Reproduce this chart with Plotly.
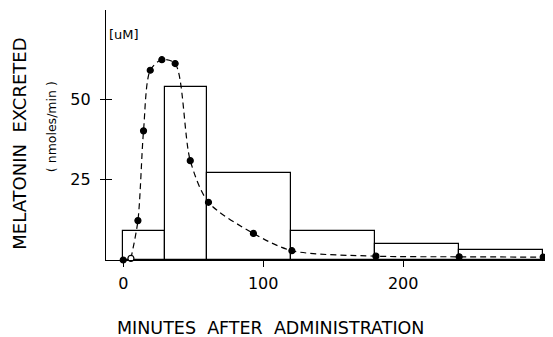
import plotly.graph_objects as go

# Histogram: excretion in collection periods
bin_start = [0, 30, 60, 120, 180, 240]
bin_end = [30, 60, 120, 180, 240, 300]
bin_height = [9, 54, 27, 9, 5, 3]

# Plasma concentration curve (uM)
t_min = [0, 5.5, 10.5, 14.5, 19.3, 27.6, 37.1, 47.9, 60.9, 93, 120.5, 180.5, 240, 300]
conc = [0, 0.5, 12.3, 40.3, 59.2, 62.5, 61.3, 31, 18, 8.3, 2.9, 1.2, 1.0, 0.9]
marker_open = [False, True, False, False, False, False, False, False, False, False, False, False, False, False]

x_ticks = [0, 100, 200]
y_ticks = [25, 50]

FONT = "DejaVu Sans"

centers = [(a + b) / 2 for a, b in zip(bin_start, bin_end)]
widths = [b - a for a, b in zip(bin_start, bin_end)]

fig = go.Figure()
fig.add_trace(go.Bar(
    x=centers, y=bin_height, width=widths,
    marker=dict(color="rgba(255,255,255,0)", line=dict(color="black", width=1.2)),
    showlegend=False, hoverinfo="skip",
))
fig.add_trace(go.Scatter(
    x=t_min[1:], y=conc[1:], mode="lines",
    line=dict(color="black", width=1.2, dash="6px,4px", shape="spline", smoothing=0.8),
    showlegend=False, hoverinfo="skip",
))
fig.add_trace(go.Scatter(
    x=t_min, y=conc, mode="markers",
    marker=dict(
        size=6,
        color=["white" if o else "black" for o in marker_open],
        line=dict(color="black", width=1.2),
    ),
    cliponaxis=False, showlegend=False,
))

# page body has an 8px margin, so the figure is offset by 8px in the window
fig.update_layout(
    width=545, height=329,
    margin=dict(l=98, r=1, t=2, b=77),
    paper_bgcolor="white", plot_bgcolor="white",
    font=dict(family=FONT, color="black", size=15),
    bargap=0,
    xaxis=dict(
        range=[-12.3, 306.3], tickvals=x_ticks, ticks="outside", ticklen=6,
        tickwidth=1.2, tickcolor="black", showgrid=False, zeroline=False,
        showline=True, linecolor="black", linewidth=1.2,
        tickfont=dict(size=16, family=FONT), ticklabelstandoff=3,
    ),
    yaxis=dict(
        range=[0, 78], tickvals=y_ticks, ticks="outside", ticklen=5,
        tickwidth=1.2, tickcolor="black", showgrid=False, zeroline=False,
        showline=True, linecolor="black", linewidth=1.2,
        tickfont=dict(size=16, family=FONT), ticklabelstandoff=6,
    ),
    yaxis2=dict(
        range=[0, 78], tickvals=y_ticks, ticks="inside", ticklen=6,
        tickwidth=1.2, tickcolor="black", showgrid=False, zeroline=False,
        showticklabels=False, overlaying="y", side="left", showline=False,
    ),
    annotations=[
        dict(text="MELATONIN  EXCRETED", xref="paper", yref="paper",
             x=-0.193, y=0.465, xanchor="center", yanchor="middle",
             textangle=-90, showarrow=False, font=dict(size=18, family=FONT)),
        dict(text="( nmoles/min )", xref="paper", yref="paper",
             x=-0.123, y=0.532, xanchor="center", yanchor="middle",
             textangle=-90, showarrow=False, font=dict(size=12.5, family=FONT)),
        dict(text="MINUTES  AFTER  ADMINISTRATION", xref="paper", yref="paper",
             x=0.368, y=-0.272, xanchor="center", yanchor="middle",
             showarrow=False, font=dict(size=17.5, family=FONT)),
        dict(text="[uM]", xref="paper", yref="paper",
             x=0.002, y=0.9, xanchor="left", yanchor="middle",
             showarrow=False, font=dict(size=13, family=FONT)),
    ],
)
# dummy trace to activate yaxis2
fig.add_trace(go.Scatter(x=[None], y=[None], yaxis="y2", showlegend=False))

fig.write_html("out.html")
